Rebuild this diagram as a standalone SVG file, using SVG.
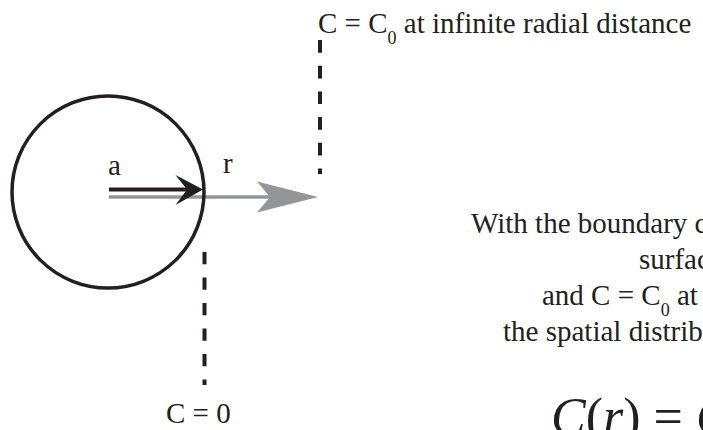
<svg xmlns="http://www.w3.org/2000/svg" width="703" height="430" viewBox="0 0 703 430">
<style>
.t{font-family:"Liberation Serif","Times New Roman",serif;font-size:29px;fill:#231f20}
.sub{font-size:18px}
.dash{fill:none;stroke:#231f20;stroke-width:4}
.math{font-family:"Liberation Serif","Times New Roman",serif;font-size:52px;fill:#231f20}
</style>
<rect width="703" height="430" fill="#ffffff"/>
<g id="connectors">
<path class="dash" d="M320,40 V174" stroke-dasharray="12.7 13"/>
<path class="dash" d="M204.5,252 V385" stroke-dasharray="12.3 13.2"/>
</g>
<g id="radius-r">
<path d="M109,197 H270" stroke="#939598" stroke-width="3.5" fill="none"/>
<path d="M318,197 L257,181.5 L270,197 L257,212.5 Z" fill="#939598"/>
<text class="t" x="223" y="173">r</text>
</g>
<g id="sphere">
<circle cx="108" cy="192" r="96" fill="none" stroke="#231f20" stroke-width="3.5"/>
</g>
<g id="radius-a">
<path d="M109,189.5 H188" stroke="#231f20" stroke-width="4" fill="none"/>
<path d="M203,189.5 L175.5,175 L187,189.5 L175.5,205 Z" fill="#231f20"/>
<text class="t" x="108" y="175">a</text>
</g>
<g id="label-outer">
<text class="t" x="318" y="33">C = C<tspan class="sub" dy="11">0</tspan><tspan dy="-11"> at infinite radial distance</tspan></text>
</g>
<g id="label-surface">
<text class="t" x="166" y="423">C = 0</text>
</g>
<g id="description">
<text class="t" x="471" y="233">With the boundary c</text>
<text class="t" x="639" y="269">surfac</text>
<text class="t" x="542" y="305">and C = C<tspan class="sub" dy="11">0</tspan><tspan dy="-11"> at</tspan></text>
<text class="t" x="503" y="341" font-size="31">the spatial distrib</text>
</g>
<g id="equation">
<text class="math" x="551" y="434"><tspan font-style="italic">C</tspan><tspan>(</tspan><tspan font-style="italic">r</tspan><tspan>) = </tspan><tspan font-style="italic">C</tspan></text>
</g>
</svg>
